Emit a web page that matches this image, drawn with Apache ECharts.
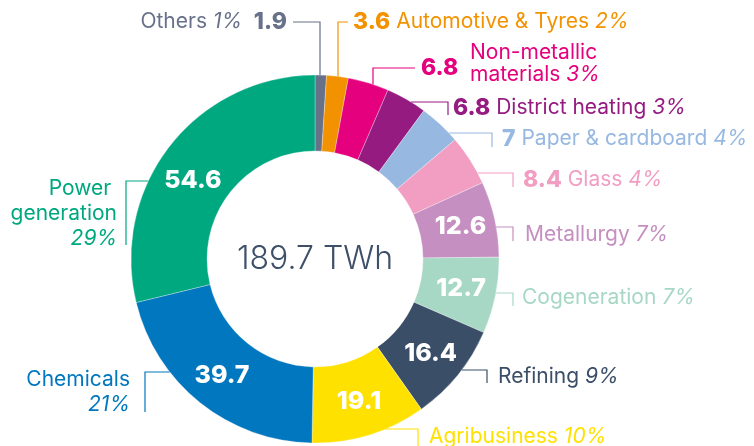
<!DOCTYPE html>
<html><head><meta charset="utf-8">
<script src="https://cdn.jsdelivr.net/npm/echarts@6/dist/echarts.min.js"></script>
<style>html,body{margin:0;padding:0;background:#fff}#c{width:754px;height:446px}</style>
</head><body><div id="c"></div>
<script>
// ---- data ----
const categories = ['Others', 'Automotive & Tyres', 'Non-metallic\nmaterials', 'District heating',
  'Paper & cardboard', 'Glass', 'Metallurgy', 'Cogeneration', 'Refining', 'Agribusiness',
  'Chemicals', 'Power \ngeneration'];
const values = [1.9, 3.6, 6.8, 6.8, 7, 8.4, 12.6, 12.7, 16.4, 19.1, 39.7, 54.6];
const shares = ['1%', '2%', '3%', '3%', '4%', '4%', '7%', '7%', '9%', '10%', '21%', '29%'];
const totalLabel = '189.7 TWh';

// ---- styles / layout ----
const colors = ['#67718a', '#f39200', '#e5007e', '#951b81', '#97b8e1', '#f19ec2',
  '#c68fc1', '#a7d7c5', '#3b4e68', '#ffe100', '#0077bf', '#00a880'];
const CX = 315, CY = 259, R = 184, R0 = 108;
const INSIDE_MIN = 12;
const FONT = 'Inter';
// label anchor: [x, y, align]
const labelAnchors = [
  [287, 22, 'right'], [353, 22, 'left'], [470, 64, 'left'], [453, 108, 'left'],
  [502, 139, 'left'], [523, 180, 'left'], [525, 235, 'left'], [522, 298, 'left'],
  [498, 377, 'left'], [429, 437, 'left'], [130, 392, 'right'], [117, 214, 'right']
];
// leader: ['v', xOnSlice, yLine, xEnd] or ['s', xBracket, yTop, yBottom]
const leaders = [
  ['v', 320, 22, 293], ['v', 338, 22, 348], ['v', 373, 68, 415], ['s', 448, 102, 115],
  ['s', 492, 133, 147], ['s', 513, 173, 187], ['s', 513, 227, 241], ['s', 513, 293, 306],
  ['s', 487, 370, 383], ['s', 418, 429, 446], ['s', 145, 372, 412], ['s', 126, 181, 245]
];
const splitValueAnchor = [421, 68];
const insideNudge = { 11: [-5, 14] };

const isInside = i => values[i] >= INSIDE_MIN;
const isSplit = i => !isInside(i) && categories[i].indexOf('\n') >= 0;

function outsideText(i) {
  const name = categories[i], pct = shares[i], v = values[i];
  const lines = name.split('\n');
  const align = labelAnchors[i][2];
  if (isSplit(i)) {
    return lines.map((l, k) => k === lines.length - 1 ? '{m|' + l + ' }{q|' + pct + '}' : '{m|' + l + '}').join('\n');
  }
  if (align === 'right') {
    if (isInside(i)) return lines.map(l => '{n|' + l + '}').join('\n') + '\n{p|' + pct + '}';
    return '{n|' + name + ' }{p|' + pct + '}{n|  }{v|' + v + '}';
  }
  if (isInside(i)) return '{n|' + name + ' }{p|' + pct + '}';
  return '{v|' + v + '}{n| ' + name + ' }{p|' + pct + '}';
}

const chart = echarts.init(document.getElementById('c'), null, { renderer: 'canvas' });
chart.setOption({
  animation: false,
  backgroundColor: '#fff',
  graphic: [{
    type: 'text', x: CX, y: CY, z: 10,
    style: { text: totalLabel, align: 'center', verticalAlign: 'middle',
      font: '300 32px ' + FONT, fill: '#3d4f69' }
  }],
  series: [
    {
      type: 'pie', center: [CX, CY], radius: [R0, R], startAngle: 90, clockwise: true,
      avoidLabelOverlap: false, silent: true,
      itemStyle: { borderColor: 'rgba(255,255,255,0.6)', borderWidth: 0.5 },
      label: { position: 'inside', color: '#fff', fontFamily: FONT, fontWeight: 800, fontSize: 25,
        formatter: '{c}' },
      labelLine: { show: false },
      labelLayout: function (p) {
        const i = p.dataIndex;
        if (isSplit(i)) return { x: splitValueAnchor[0], y: splitValueAnchor[1], align: 'left', verticalAlign: 'middle' };
        if (insideNudge[i]) return { dx: insideNudge[i][0], dy: insideNudge[i][1] };
        return {};
      },
      data: values.map((v, i) => ({
        name: categories[i], value: v, itemStyle: { color: colors[i] },
        label: isSplit(i) ? { show: true, color: colors[i], fontSize: 23 } : { show: isInside(i) }
      }))
    },
    {
      type: 'pie', center: [CX, CY], radius: [R0, R], startAngle: 90, clockwise: true,
      avoidLabelOverlap: false, silent: true, z: 3,
      itemStyle: { color: 'rgba(0,0,0,0)' },
      label: {
        position: 'outside', overflow: 'none', fontFamily: FONT, fontSize: 21,
        formatter: p => outsideText(p.dataIndex),
        rich: {
          v: { fontFamily: FONT, fontWeight: 800, fontSize: 23, lineHeight: 25 },
          n: { fontFamily: FONT, fontSize: 21, lineHeight: 25 },
          p: { fontFamily: FONT, fontSize: 21, fontStyle: 'italic', lineHeight: 25 },
          m: { fontFamily: FONT, fontSize: 21, lineHeight: 22 },
          q: { fontFamily: FONT, fontSize: 21, fontStyle: 'italic', lineHeight: 22 }
        }
      },
      labelLine: { show: true, smooth: false, lineStyle: { width: 1.2 } },
      labelLayout: function (p) {
        const i = p.dataIndex, a = labelAnchors[i], l = leaders[i];
        let pts;
        if (l[0] === 'v') {
          const ey = CY - Math.sqrt(Math.max(0, R * R - (l[1] - CX) * (l[1] - CX)));
          pts = [[l[1], ey], [l[1], l[2]], [l[3], l[2]]];
        } else {
          const side = l[1] > CX ? 1 : -1;
          const ex = CX + side * Math.sqrt(Math.max(0, R * R - (l[2] - CY) * (l[2] - CY)));
          pts = [[ex, l[2]], [l[1], l[2]], [l[1], l[3]]];
        }
        return { x: a[0], y: a[1], align: a[2], verticalAlign: 'middle', labelLinePoints: pts };
      },
      data: values.map((v, i) => ({
        name: categories[i], value: v,
        label: { color: colors[i] },
        labelLine: { lineStyle: { color: colors[i] } }
      }))
    }
  ]
});
</script>
</body></html>
